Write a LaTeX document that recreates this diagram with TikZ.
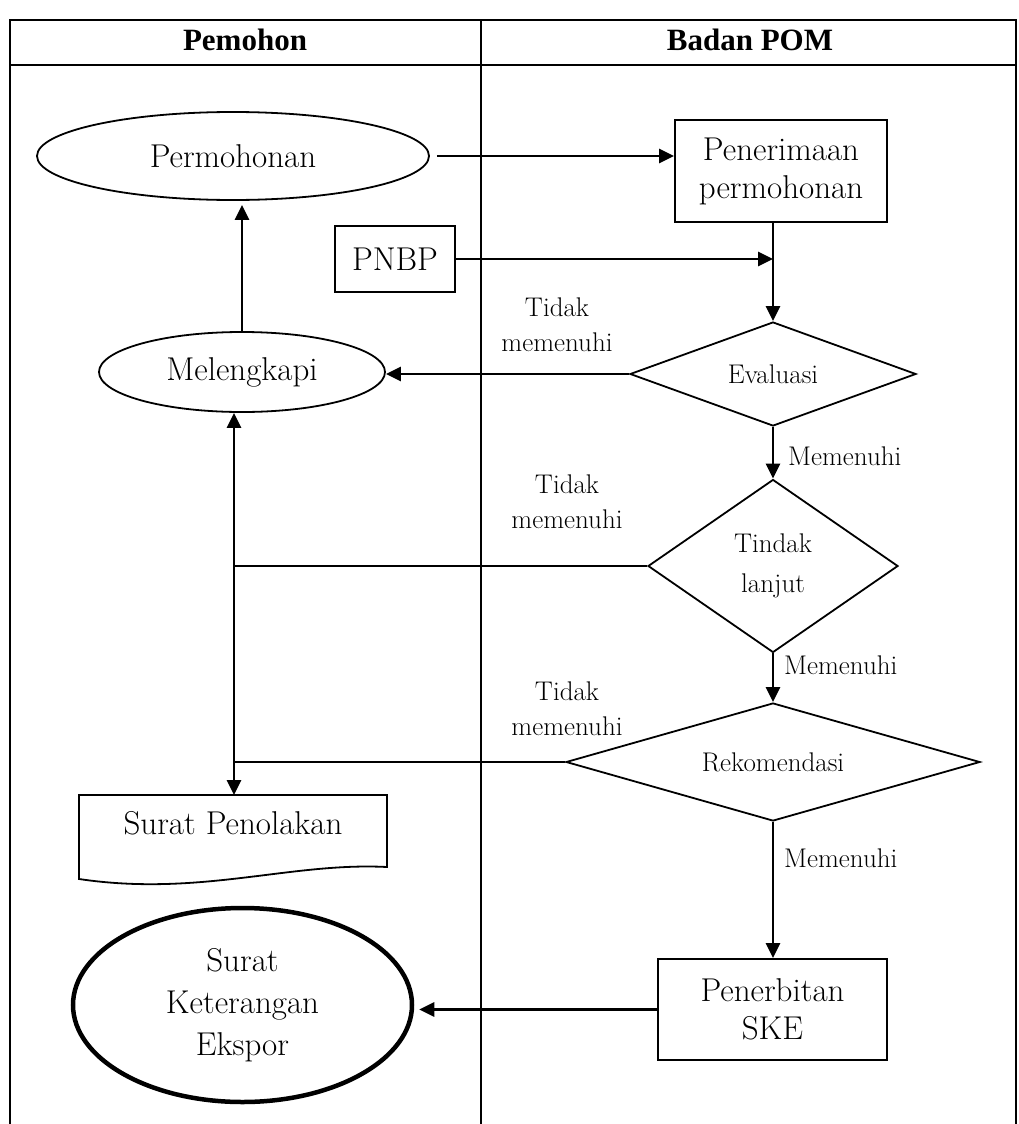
\documentclass[tikz,border=0pt]{standalone}
\usepackage{fontspec}
\newfontfamily\hdrfont{Liberation Serif}
\usetikzlibrary{shapes.geometric,arrows.meta,calc}
\begin{document}
\begin{tikzpicture}[x=1pt,y=-1pt,
  every node/.style={font=\fontsize{33}{38}\selectfont},
  lane/.style={line width=1.6pt},
  box/.style={draw, rectangle, line width=1.8pt, inner sep=0pt, align=center},
  ell/.style={draw, ellipse, line width=1.8pt, inner sep=0pt, align=center},
  dia/.style={draw, diamond, line width=1.8pt, inner sep=0pt, align=center, font=\fontsize{27}{40}\selectfont},
  lbl/.style={font=\fontsize{27}{35}\selectfont, align=center, inner sep=0pt},
  hdr/.style={font=\hdrfont\bfseries\fontsize{31}{34}\selectfont},
  arr/.style={line width=2.7pt, -{Triangle[length=15pt,width=14pt]}},
  con/.style={line width=2.2pt}
]
\useasboundingbox (0,0) rectangle (1018,1124);
% swimlane frame
\draw[lane] (10,1124) -- (10,20) -- (1016,20) -- (1016,1124);
\draw[lane] (10,65) -- (1016,65);
\draw[lane] (481,20) -- (481,1124);
\node[hdr] (h1) at (245,40) {Pemohon};
\node[hdr] (h2) at (750,40) {Badan POM};

% nodes
\node[ell, minimum width=392pt, minimum height=88pt] (perm) at (233,156) {Permohonan};
\node[box, minimum width=212pt, minimum height=102pt] (pener) at (781,171) {Penerimaan\\permohonan};
\node[box, minimum width=120pt, minimum height=66pt] (pnbp) at (395,259) {PNBP};
\node[dia, aspect=2.75, minimum width=286pt, minimum height=104pt] (eva) at (773,374) {Evaluasi};
\node[ell, minimum width=286pt, minimum height=80pt] (mel) at (242,372) {Melengkapi};
\node[dia, aspect=1.45, minimum width=250pt, minimum height=173pt] (tl) at (773,566) {Tindak\\lanjut};
\node[dia, aspect=3.5, minimum width=414pt, minimum height=118pt] (rek) at (773,762) {Rekomendasi};
\node (tol) at (233,823) {Surat Penolakan};
\draw[line width=1.8pt] (79,795) -- (387,795) -- (387,867)
  .. controls (290,862) and (200,897) .. (79,879) -- cycle;
\coordinate (toltop) at (234,795);
\node[box, minimum width=229pt, minimum height=101pt] (sket) at (772.5,1009.5) {Penerbitan\\SKE};
\node[ell, line width=4.5pt, minimum width=339pt, minimum height=194pt, font=\fontsize{33}{42}\selectfont] (ske) at (242.5,1005) {Surat\\Keterangan\\Ekspor};

\coordinate (j1) at (234,566);
\coordinate (j2) at (234,762);

% connectors
\draw[arr] ([xshift=7pt]perm.east) -- (perm.east -| pener.west);
\draw[arr] (pnbp.east) -- (pnbp.east -| eva.north);
\draw[arr] (pener.south -| eva.north) -- (eva.north);
\draw[arr] (eva.west) -- (eva.west -| mel.east);
\draw[arr, shorten >=4pt] (mel.north) -- (mel.north |- perm.south);
\draw[arr] (eva.south) -- (tl.north);
\draw[con] (tl.west) -- (j1);
\draw[arr] (tl.south) -- (rek.north);
\draw[con] (rek.west) -- (j2);
\draw[arr] (j2) -- (j2 |- mel.south);
\draw[arr] (j2) -- (toltop);
\draw[arr] (rek.south) -- (sket.north -| rek.south);
\draw[arr, shorten >=5pt] (sket.west) -- (sket.west -| ske.east);

% labels
\node[lbl] (t1) at (557,325) {Tidak\\memenuhi};
\node[lbl] (t2) at (567,502) {Tidak\\memenuhi};
\node[lbl] (t3) at (567,709) {Tidak\\memenuhi};
\node[lbl, anchor=west] (m1) at (788,456) {Memenuhi};
\node[lbl, anchor=west] (m2) at (784,665) {Memenuhi};
\node[lbl, anchor=west] (m3) at (784,858) {Memenuhi};
\end{tikzpicture}
\end{document}
